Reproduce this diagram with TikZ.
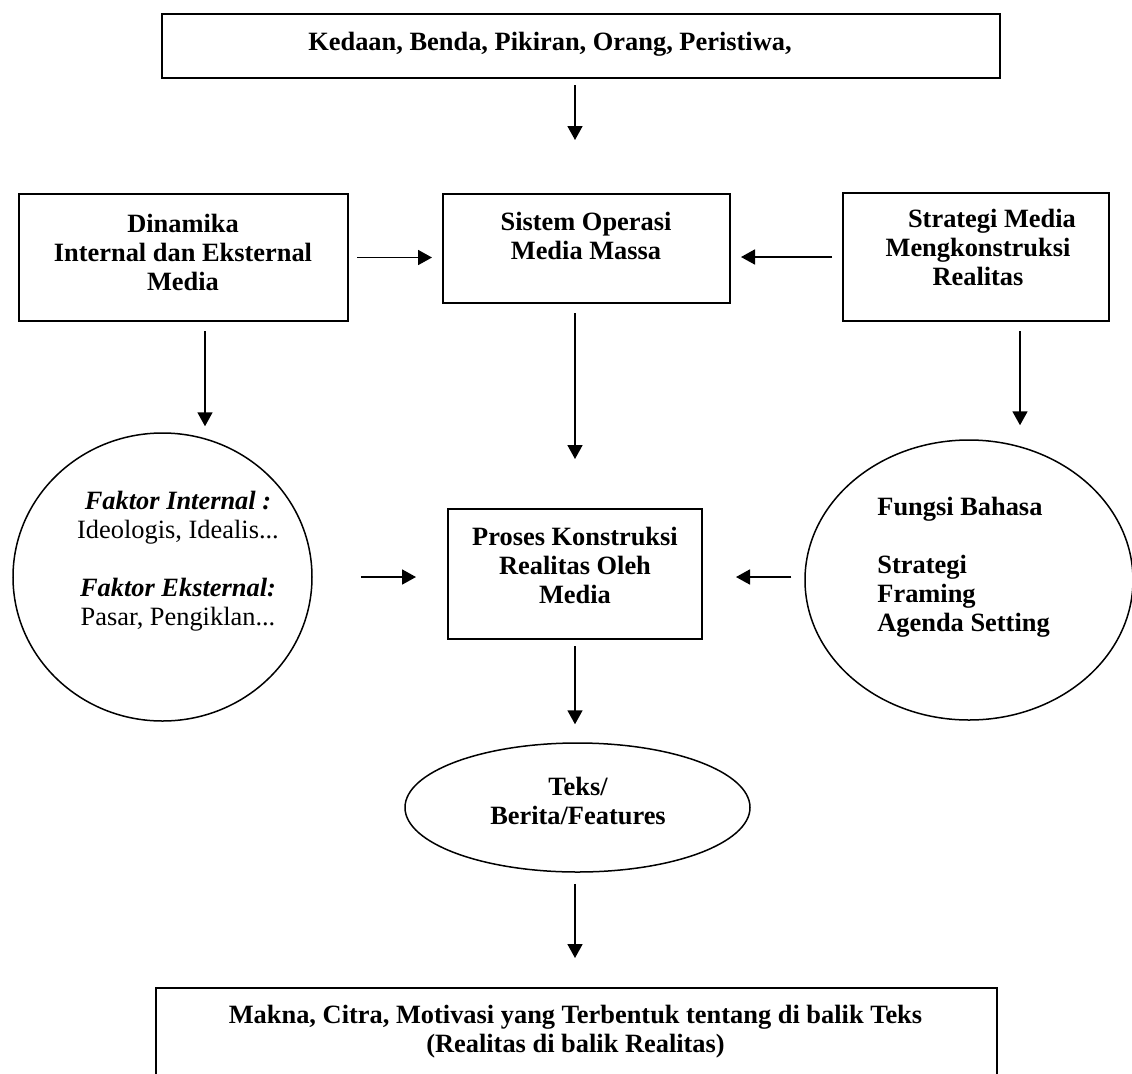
\documentclass[tikz,border=0pt]{standalone}
\usepackage{fontspec}
\setmainfont{Liberation Serif}
\usetikzlibrary{shapes.geometric,arrows.meta}
\newcommand{\mlc}[1]{\begin{tabular}[t]{@{}c@{}}#1\end{tabular}}
\newcommand{\mll}[1]{\begin{tabular}[t]{@{}l@{}}#1\end{tabular}}
\begin{document}
\begin{tikzpicture}[x=0.5pt,y=-0.5pt,
  box/.style={draw, line width=1pt, rectangle, inner sep=0},
  ell/.style={draw, line width=0.75pt, ellipse, inner sep=0},
  txt/.style={inner sep=0, anchor=base, font=\fontsize{13.2}{14.5}\selectfont\bfseries},
  arr/.style={line width=0.9pt, -{Triangle[length=7pt,width=7.5pt]}}]
\useasboundingbox (0,0) rectangle (1132,1073);
\clip (0,0) rectangle (1132,1073);
\fill[white] (0,0) rectangle (1132,1073);

% shapes
\node[box, minimum width=419pt, minimum height=32pt] (top) at (581,46) {};
\node[box, minimum width=164.5pt, minimum height=63.5pt] (dyn) at (183.5,257.5) {};
\node[box, minimum width=143.5pt, minimum height=54.5pt] (sys) at (586.5,248.5) {};
\node[box, minimum width=133pt, minimum height=64pt] (strat) at (976,257) {};
\node[ell, minimum width=149.5pt, minimum height=144pt] (fi) at (162.5,577) {};
\node[box, minimum width=127pt, minimum height=65pt] (pro) at (575,574) {};
\node[ell, minimum width=164pt, minimum height=140pt] (fb) at (969,580) {};
\node[ell, minimum width=172.5pt, minimum height=64.5pt] (teks) at (577.5,807.5) {};
\node[box, minimum width=420.5pt, minimum height=60pt] (bot) at (576.5,1048) {};

% texts
\node[txt] (toptxt) at (550,50) {Kedaan, Benda, Pikiran, Orang, Peristiwa,};
\node[txt] (dyntxt) at (183,232) {\mlc{Dinamika\\Internal dan Eksternal\\Media}};
\node[txt] (systxt) at (586,230) {\mlc{Sistem Operasi\\Media Massa}};
\node[txt] (strtxt) at (978,227) {\mlc{\hspace*{14pt}Strategi Media\\Mengkonstruksi\\Realitas}};
\node[txt] (fitxt) at (178,509) {\mlc{\textit{Faktor Internal :}\\\mdseries Ideologis, Idealis...\\ \\\textit{Faktor Eksternal:}\\\mdseries Pasar, Pengiklan...}};
\node[txt, anchor=base west] (fbtxt) at (877,515) {\mll{Fungsi Bahasa\\ \\Strategi\\Framing\\Agenda Setting}};
\node[txt] (protxt) at (575,545) {\mlc{Proses Konstruksi\\Realitas Oleh\\Media}};
\node[txt] (tekstxt) at (578,795) {\mlc{Teks/\\Berita/Features}};
\node[txt] (bottxt) at (575.5,1023) {\mlc{Makna, Citra, Motivasi yang Terbentuk tentang di balik Teks\\(Realitas di balik Realitas)}};

% guide coordinates
\coordinate (xl) at (205,0);
\coordinate (xr) at (1020,0);
\coordinate (ym) at (0,577);

% connectors
\draw[arr, shorten <=3pt, shorten >=26.5pt] (pro |- top.south) -- (pro |- sys.north);
\draw[arr, shorten <=4pt, shorten >=5pt] (dyn.east) -- (dyn.east -| sys.west);
\draw[arr, shorten <=5pt, shorten >=5pt] (strat.west) -- (strat.west -| sys.east);
\draw[arr, shorten <=4.5pt, shorten >=3pt] (xl |- dyn.south) -- (xl |- fi.north);
\draw[arr, shorten <=4.5pt, shorten >=24.5pt] (pro |- sys.south) -- (pro.north);
\draw[arr, shorten <=4.5pt, shorten >=7pt] (xr |- strat.south) -- (xr |- fb.north);
\draw[arr, shorten <=24pt, shorten >=15.5pt] (fi.east |- ym) -- (pro.west |- ym);
\draw[arr, shorten <=6.5pt, shorten >=16.5pt] (fb.west |- ym) -- (pro.east |- ym);
\draw[arr, shorten <=3pt, shorten >=9pt] (pro.south) -- (pro |- teks.north);
\draw[arr, shorten <=5.5pt, shorten >=14.5pt] (pro |- teks.south) -- (pro |- bot.north);
\end{tikzpicture}
\end{document}
